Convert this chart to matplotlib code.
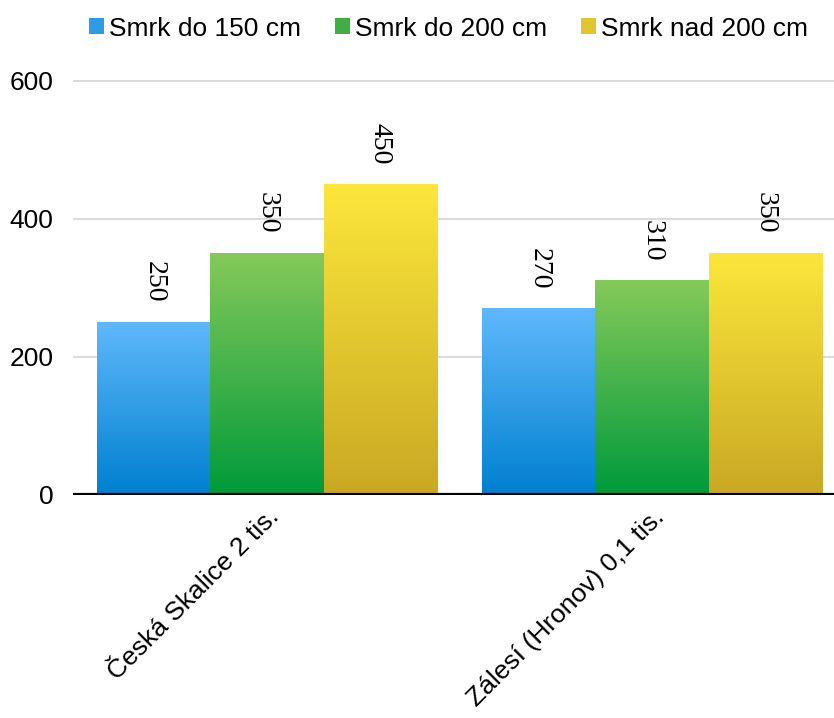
import matplotlib
matplotlib.use('Agg')
import matplotlib.pyplot as plt
import numpy as np
from matplotlib.colors import LinearSegmentedColormap
from matplotlib.patches import Patch

categories = ['Česká Skalice 2 tis.', 'Zálesí (Hronov) 0,1 tis.']
series = ['Smrk do 150 cm', 'Smrk do 200 cm', 'Smrk nad 200 cm']
values = [[250, 270], [350, 310], [450, 350]]
# top / bottom colour of each series gradient
top_colors = ['#60b8fa', '#85c95a', '#fce63b']
bottom_colors = ['#0080d0', '#009a3b', '#c9a823']
mid_colors = ['#2f9be6', '#3fae45', '#e3c62f']

plt.rcParams['font.family'] = ['Liberation Sans', 'DejaVu Sans']
plt.rcParams['font.serif'] = ['Liberation Serif', 'DejaVu Serif']

fig = plt.figure(figsize=(8.34, 7.18), dpi=100)
ax = fig.add_axes([73/834, 0.3106, 1 - 73/834, 0.8972 - 0.3106])

x = np.arange(len(categories))
w = 0.294
grad = np.linspace(0, 1, 256).reshape(-1, 1)

for i, s in enumerate(series):
    pos = x + (i - 1) * w
    bars = ax.bar(pos, values[i], w, color='none', edgecolor='none', label=s)
    cmap = LinearSegmentedColormap.from_list('g%d' % i, [bottom_colors[i], top_colors[i]])
    for b, v in zip(bars, values[i]):
        x0 = b.get_x()
        ax.imshow(grad, extent=[x0, x0 + b.get_width(), 0, v], origin='lower',
                  cmap=cmap, aspect='auto', zorder=2)
        t = ax.annotate(str(v), (x0 + b.get_width() / 2, v), xytext=(0, 14),
                        textcoords='offset points', rotation=270, ha='center', va='bottom',
                        fontsize=20, zorder=3)
        t.set_fontfamily('serif')

ax.set_xlim(-0.504, 1.473)
ax.set_ylim(0, 610)
ax.set_yticks([0, 200, 400, 600])
ax.grid(axis='y', color='#d4d4d4', linewidth=1.2, zorder=0)
ax.set_axisbelow(True)
ax.axhline(0, color='black', linewidth=3, zorder=4)
for sp in ax.spines.values():
    sp.set_visible(False)
ax.tick_params(axis='y', length=0, pad=14, labelsize=19)
ax.tick_params(axis='x', length=0, pad=7, labelsize=19)
ax.set_xticks(x)
ax.set_xticklabels(categories, rotation=45, ha='right', rotation_mode='anchor')

handles = [Patch(facecolor=c, edgecolor='none') for c in mid_colors]
fig.legend(handles, series, loc='upper center', bbox_to_anchor=(0.538, 1.01), ncol=3,
           frameon=False, fontsize=19, handlelength=0.55, handleheight=0.55,
           handletextpad=0.2, columnspacing=1.3, borderaxespad=0.5)

fig.savefig('out.png', dpi=100)
